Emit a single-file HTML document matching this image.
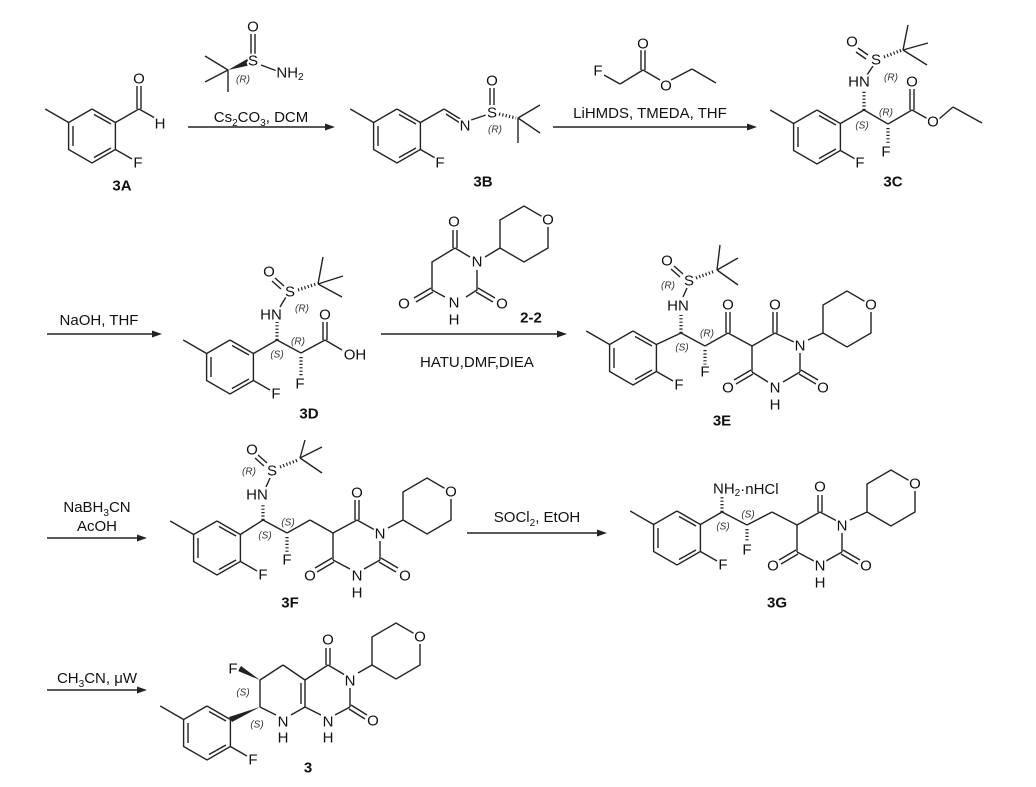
<!DOCTYPE html>
<html><head><meta charset="utf-8"><style>
html,body{margin:0;padding:0;background:#fff;}
svg{display:block;font-family:"Liberation Sans",sans-serif;}
.b line,.b polyline{stroke:#222;stroke-width:1.4;fill:none;}
.h{stroke:#222;stroke-width:3.2;stroke-dasharray:1.2 2.2;}
.a{font-size:15px;text-anchor:middle;dominant-baseline:central;fill:#111;paint-order:stroke;stroke:#fff;stroke-width:4px;stroke-linejoin:round;}
.s{font-size:10px;font-style:italic;text-anchor:middle;dominant-baseline:central;fill:#333;paint-order:stroke;stroke:#fff;stroke-width:2px;}
.r{font-size:15px;text-anchor:middle;fill:#111;}
.l{font-size:15px;font-weight:bold;text-anchor:middle;dominant-baseline:central;fill:#111;}
.w{fill:#fff;}
</style></head><body>
<svg width="1036" height="787" viewBox="0 0 1036 787" xmlns="http://www.w3.org/2000/svg">
<defs>
<g id="ar" class="b">
<polyline points="0,-27 23.4,-13.5 23.4,13.5 0,27 -23.4,13.5 -23.4,-13.5 0,-27"/>
<line x1="2" y1="-21.5" x2="19" y2="-12"/>
<line x1="19" y1="12" x2="2" y2="21.5"/>
<line x1="-19" y1="-10" x2="-19" y2="10"/>
<line x1="-23.4" y1="-13.5" x2="-46.8" y2="-27"/>
<line x1="23.4" y1="13.5" x2="40" y2="23"/>
</g>
<g id="thp" class="b">
<polyline points="0,0 0,-28 24,-42 48,-28 48,0 24,14 0,0"/>
<circle cx="48" cy="-28" r="7" fill="#fff" stroke="none"/>
</g>
<g id="ah"><polygon points="0,0 -10,-3.5 -10,3.5" fill="#222"/></g>
</defs>

<!-- 3A -->
<use href="#ar" x="92" y="136"/>
<g class="b">
<line x1="115.4" y1="122.5" x2="139" y2="109"/>
<line x1="137" y1="109" x2="137" y2="86"/><line x1="141" y1="109" x2="141" y2="86"/>
<line x1="139" y1="109" x2="155" y2="118"/>
</g>
<text class="a" x="139" y="79">O</text>
<text class="a" x="160" y="124">H</text>
<text class="a" x="138" y="163">F</text>
<text class="l" x="122" y="186">3A</text>

<!-- reagent 1 -->
<g class="b">
<line x1="228" y1="70" x2="205" y2="56"/><line x1="228" y1="70" x2="205" y2="82"/><line x1="228" y1="70" x2="228" y2="92"/>
<line x1="251" y1="34" x2="251" y2="54"/><line x1="255" y1="34" x2="255" y2="54"/>
<line x1="261" y1="65" x2="277" y2="71"/>
</g>
<polygon points="228,70 249,58 251,65" fill="#222"/>
<text class="a" x="253" y="61">S</text>
<text class="a" x="253" y="27">O</text>
<text class="a" x="290" y="73">NH<tspan font-size="10" dy="4">2</tspan></text>
<text class="s" x="243" y="80">(R)</text>
<text class="r" x="261" y="122">Cs<tspan font-size="10" dy="4">2</tspan><tspan dy="-4">CO</tspan><tspan font-size="10" dy="4">3</tspan><tspan dy="-4">, DCM</tspan></text>
<line x1="188" y1="127" x2="328" y2="127" stroke="#222" stroke-width="1.4"/>
<use href="#ah" x="335" y="127"/>

<!-- 3B -->
<use href="#ar" x="397" y="136"/>
<g class="b">
<line x1="420.4" y1="122.5" x2="444" y2="109"/>
<line x1="444" y1="109" x2="462" y2="120"/><line x1="446" y1="114" x2="460" y2="123"/>
<line x1="471" y1="120" x2="486" y2="115"/>
<line x1="490" y1="88" x2="490" y2="105"/><line x1="494" y1="88" x2="494" y2="105"/>
<line x1="518" y1="118" x2="540" y2="105"/><line x1="518" y1="118" x2="540" y2="133"/><line x1="518" y1="118" x2="518" y2="143"/>
</g>
<line class="h" x1="499" y1="114" x2="516" y2="118"/>
<text class="a" x="465" y="126">N</text>
<text class="a" x="492" y="113">S</text>
<text class="a" x="492" y="81">O</text>
<text class="s" x="495" y="130">(R)</text>
<text class="a" x="440" y="163">F</text>
<text class="l" x="483" y="182">3B</text>

<!-- reagent 2 -->
<g class="b">
<line x1="604" y1="75" x2="620" y2="84"/><line x1="620" y1="84" x2="643" y2="70"/>
<line x1="641" y1="70" x2="641" y2="50"/><line x1="645" y1="70" x2="645" y2="50"/>
<line x1="643" y1="70" x2="660" y2="80"/><line x1="671" y1="80" x2="692" y2="69"/><line x1="692" y1="69" x2="716" y2="83"/>
</g>
<text class="a" x="598" y="71">F</text>
<text class="a" x="643" y="44">O</text>
<text class="a" x="666" y="86">O</text>
<text class="r" x="650" y="118">LiHMDS, TMEDA, THF</text>
<line x1="553" y1="127" x2="750" y2="127" stroke="#222" stroke-width="1.4"/>
<use href="#ah" x="757" y="127"/>

<!-- 3C -->
<use href="#ar" x="817" y="137"/>
<g class="b">
<line x1="840.4" y1="123.5" x2="864" y2="110"/>
<line x1="867" y1="75" x2="873" y2="66"/>
<line x1="858" y1="48" x2="868" y2="55"/><line x1="856" y1="52" x2="866" y2="59"/>
<line x1="903" y1="50" x2="908" y2="25"/><line x1="903" y1="50" x2="928" y2="43"/><line x1="903" y1="50" x2="927" y2="65"/>
<line x1="864" y1="110" x2="888" y2="124"/><line x1="888" y1="124" x2="912" y2="110"/>
<line x1="910" y1="110" x2="910" y2="89"/><line x1="914" y1="110" x2="914" y2="89"/>
<line x1="912" y1="110" x2="928" y2="119"/><line x1="939" y1="119" x2="953" y2="107"/><line x1="953" y1="107" x2="982" y2="123"/>
</g>
<line class="h" x1="864" y1="110" x2="864" y2="90"/>
<line class="h" x1="884" y1="57" x2="902" y2="50"/>
<line class="h" x1="888" y1="128" x2="888" y2="145"/>
<text class="a" x="859" y="82">HN</text>
<text class="a" x="876" y="60">S</text>
<text class="a" x="852" y="42">O</text>
<text class="s" x="891" y="78">(R)</text>
<text class="a" x="912" y="82">O</text>
<text class="a" x="933" y="122">O</text>
<text class="a" x="886" y="152">F</text>
<text class="s" x="862" y="126">(S)</text>
<text class="s" x="886" y="113">(R)</text>
<text class="a" x="860" y="163">F</text>
<text class="l" x="893" y="182">3C</text>

<!-- ROW 2 -->
<text class="r" x="99" y="325">NaOH, THF</text>
<line x1="47" y1="334" x2="155" y2="334" stroke="#222" stroke-width="1.4"/>
<use href="#ah" x="162" y="334"/>

<!-- 3D -->
<use href="#ar" x="230" y="367"/>
<g class="b">
<line x1="253.4" y1="353.5" x2="277" y2="340"/>
<line x1="280" y1="307" x2="286" y2="297"/>
<line x1="275" y1="278" x2="284" y2="286"/><line x1="272" y1="281" x2="281" y2="289"/>
<line x1="318" y1="284" x2="323" y2="257"/><line x1="318" y1="284" x2="343" y2="276"/><line x1="318" y1="284" x2="342" y2="297"/>
<line x1="277" y1="340" x2="301" y2="353"/><line x1="301" y1="353" x2="325" y2="340"/>
<line x1="323" y1="340" x2="323" y2="322"/><line x1="327" y1="340" x2="327" y2="322"/>
<line x1="325" y1="340" x2="342" y2="350"/>
</g>
<line class="h" x1="277" y1="340" x2="277" y2="322"/>
<line class="h" x1="298" y1="290" x2="316" y2="284"/>
<line class="h" x1="301" y1="357" x2="301" y2="376"/>
<text class="a" x="271" y="315">HN</text>
<text class="a" x="290" y="292">S</text>
<text class="a" x="269" y="272">O</text>
<text class="s" x="302" y="309">(R)</text>
<text class="a" x="325" y="315">O</text>
<text class="a" x="355" y="355">OH</text>
<text class="a" x="300" y="384">F</text>
<text class="s" x="277" y="355">(S)</text>
<text class="s" x="298" y="342">(R)</text>
<text class="a" x="276" y="394">F</text>
<text class="l" x="309" y="414">3D</text>

<!-- 2-2 -->
<g class="b">
<polyline points="455,248 470,257"/><polyline points="477,270 477,290 466,297"/><polyline points="445,297 432,290 432,262 455,248"/>
<line x1="453" y1="248" x2="453" y2="230"/><line x1="457" y1="248" x2="457" y2="230"/>
<line x1="478" y1="288" x2="495" y2="298"/><line x1="476" y1="292" x2="493" y2="302"/>
<line x1="431" y1="288" x2="414" y2="298"/><line x1="433" y1="292" x2="416" y2="302"/>
<line x1="485" y1="257" x2="500" y2="248"/>
</g>
<use href="#thp" x="500" y="248"/>
<text class="a" x="454" y="222">O</text>
<text class="a" x="477" y="262">N</text>
<text class="a" x="502" y="304">O</text>
<text class="a" x="454" y="303">N</text>
<text class="a" x="454" y="320">H</text>
<text class="a" x="404" y="304">O</text>
<text class="a" x="548" y="220">O</text>
<text class="l" x="531" y="318">2-2</text>
<line x1="381" y1="334" x2="560" y2="334" stroke="#222" stroke-width="1.4"/>
<use href="#ah" x="567" y="334"/>
<text class="r" x="477" y="367">HATU,DMF,DIEA</text>

<!-- 3E -->
<use href="#ar" x="633" y="358"/>
<g class="b">
<line x1="656.4" y1="344.5" x2="681" y2="333"/>
<line x1="683" y1="297" x2="687" y2="288"/>
<line x1="674" y1="266" x2="683" y2="274"/><line x1="671" y1="269" x2="680" y2="277"/>
<line x1="717" y1="270" x2="720" y2="245"/><line x1="717" y1="270" x2="738" y2="258"/><line x1="717" y1="270" x2="738" y2="285"/>
<line x1="681" y1="333" x2="705" y2="346"/><line x1="705" y1="346" x2="728" y2="333"/>
<line x1="726" y1="333" x2="726" y2="312"/><line x1="730" y1="333" x2="730" y2="312"/>
<line x1="728" y1="333" x2="752" y2="346"/><line x1="752" y1="346" x2="775" y2="333"/>
<line x1="773" y1="333" x2="773" y2="312"/><line x1="777" y1="333" x2="777" y2="312"/>
<line x1="775" y1="333" x2="794" y2="342"/>
<line x1="800" y1="353" x2="800" y2="372"/>
<line x1="801" y1="370" x2="818" y2="380"/><line x1="799" y1="374" x2="816" y2="384"/>
<line x1="800" y1="372" x2="783" y2="382"/><line x1="768" y1="382" x2="752" y2="372"/>
<line x1="751" y1="370" x2="734" y2="380"/><line x1="753" y1="374" x2="736" y2="384"/>
<line x1="752" y1="372" x2="752" y2="346"/>
<line x1="808" y1="340" x2="823" y2="333"/>
</g>
<use href="#thp" x="823" y="333"/>
<line class="h" x1="681" y1="333" x2="681" y2="315"/>
<line class="h" x1="696" y1="278" x2="715" y2="271"/>
<line class="h" x1="705" y1="350" x2="705" y2="365"/>
<text class="a" x="678" y="306">HN</text>
<text class="a" x="689" y="281">S</text>
<text class="a" x="667" y="261">O</text>
<text class="s" x="668" y="286">(R)</text>
<text class="a" x="728" y="305">O</text>
<text class="a" x="775" y="305">O</text>
<text class="a" x="800" y="346">N</text>
<text class="a" x="823" y="388">O</text>
<text class="a" x="775" y="388">N</text>
<text class="a" x="775" y="405">H</text>
<text class="a" x="728" y="388">O</text>
<text class="a" x="705" y="372">F</text>
<text class="a" x="871" y="305">O</text>
<text class="s" x="682" y="348">(S)</text>
<text class="s" x="707" y="334">(R)</text>
<text class="a" x="679" y="385">F</text>
<text class="l" x="722" y="421">3E</text>

<!-- ROW 3 -->
<text class="r" x="97" y="512">NaBH<tspan font-size="10" dy="4">3</tspan><tspan dy="-4">CN</tspan></text>
<text class="r" x="97" y="531">AcOH</text>
<line x1="47" y1="538" x2="140" y2="538" stroke="#222" stroke-width="1.4"/>
<use href="#ah" x="147" y="538"/>

<!-- 3F -->
<use href="#ar" x="217" y="548"/>
<g class="b">
<line x1="240.4" y1="534.5" x2="263" y2="520"/>
<line x1="266" y1="487" x2="270" y2="478"/>
<line x1="258" y1="455" x2="267" y2="463"/><line x1="255" y1="458" x2="264" y2="466"/>
<line x1="300" y1="458" x2="305" y2="440"/><line x1="300" y1="458" x2="322" y2="447"/><line x1="300" y1="458" x2="322" y2="473"/>
<line x1="263" y1="520" x2="287" y2="533"/><line x1="287" y1="533" x2="310" y2="520"/><line x1="310" y1="520" x2="333" y2="533"/>
<line x1="333" y1="533" x2="357" y2="520"/>
<line x1="355" y1="520" x2="355" y2="500"/><line x1="359" y1="520" x2="359" y2="500"/>
<line x1="357" y1="520" x2="375" y2="530"/>
<line x1="380" y1="541" x2="380" y2="560"/>
<line x1="381" y1="558" x2="398" y2="568"/><line x1="379" y1="562" x2="396" y2="572"/>
<line x1="380" y1="560" x2="364" y2="569"/><line x1="350" y1="569" x2="333" y2="560"/>
<line x1="332" y1="558" x2="315" y2="568"/><line x1="334" y1="562" x2="317" y2="572"/>
<line x1="333" y1="560" x2="333" y2="533"/>
<line x1="388" y1="528" x2="403" y2="520"/>
</g>
<use href="#thp" x="403" y="520"/>
<line class="h" x1="263" y1="520" x2="263" y2="503"/>
<line class="h" x1="280" y1="467" x2="298" y2="460"/>
<line class="h" x1="287" y1="537" x2="287" y2="552"/>
<text class="a" x="257" y="495">HN</text>
<text class="a" x="272" y="471">S</text>
<text class="a" x="252" y="450">O</text>
<text class="s" x="249" y="472">(R)</text>
<text class="a" x="357" y="493">O</text>
<text class="a" x="380" y="534">N</text>
<text class="a" x="405" y="576">O</text>
<text class="a" x="357" y="576">N</text>
<text class="a" x="357" y="593">H</text>
<text class="a" x="310" y="576">O</text>
<text class="a" x="287" y="560">F</text>
<text class="a" x="451" y="492">O</text>
<text class="s" x="265" y="536">(S)</text>
<text class="s" x="288" y="523">(S)</text>
<text class="a" x="263" y="575">F</text>
<text class="l" x="290" y="603">3F</text>

<text class="r" x="537" y="522">SOCl<tspan font-size="10" dy="4">2</tspan><tspan dy="-4">, EtOH</tspan></text>
<line x1="467" y1="533" x2="600" y2="533" stroke="#222" stroke-width="1.4"/>
<use href="#ah" x="607" y="533"/>

<!-- 3G -->
<use href="#ar" x="677" y="538"/>
<g class="b">
<line x1="700.4" y1="524.5" x2="722" y2="512"/>
<line x1="722" y1="512" x2="747" y2="525"/><line x1="747" y1="525" x2="772" y2="512"/><line x1="772" y1="512" x2="797" y2="525"/>
<line x1="797" y1="525" x2="820" y2="512"/>
<line x1="818" y1="512" x2="818" y2="495"/><line x1="822" y1="512" x2="822" y2="495"/>
<line x1="820" y1="512" x2="837" y2="521"/>
<line x1="842" y1="533" x2="842" y2="552"/>
<line x1="843" y1="550" x2="860" y2="560"/><line x1="841" y1="554" x2="858" y2="564"/>
<line x1="842" y1="552" x2="826" y2="561"/><line x1="814" y1="561" x2="797" y2="552"/>
<line x1="796" y1="550" x2="779" y2="560"/><line x1="798" y1="554" x2="781" y2="564"/>
<line x1="797" y1="552" x2="797" y2="525"/>
<line x1="850" y1="520" x2="867" y2="512"/>
</g>
<use href="#thp" x="867" y="512"/>
<line class="h" x1="722" y1="512" x2="722" y2="496"/>
<line class="h" x1="747" y1="529" x2="747" y2="543"/>
<text x="713" y="489" style="font-size:15px;dominant-baseline:central;fill:#111">NH<tspan font-size="10" dy="4">2</tspan><tspan dy="-4">·nHCl</tspan></text>
<text class="a" x="820" y="487">O</text>
<text class="a" x="842" y="526">N</text>
<text class="a" x="866" y="566">O</text>
<text class="a" x="820" y="566">N</text>
<text class="a" x="820" y="583">H</text>
<text class="a" x="773" y="566">O</text>
<text class="a" x="747" y="550">F</text>
<text class="a" x="915" y="484">O</text>
<text class="s" x="723" y="527">(S)</text>
<text class="s" x="748" y="515">(S)</text>
<text class="a" x="723" y="565">F</text>
<text class="l" x="777" y="603">3G</text>

<!-- ROW 4 -->
<text class="r" x="97" y="683">CH<tspan font-size="10" dy="4">3</tspan><tspan dy="-4">CN, μW</tspan></text>
<line x1="47" y1="690" x2="140" y2="690" stroke="#222" stroke-width="1.4"/>
<use href="#ah" x="147" y="690"/>

<!-- 3 -->
<use href="#ar" x="207" y="733"/>
<polygon points="260,707 229,717 232,722" fill="#222"/>
<polygon points="260,680 241,666 238,671" fill="#222"/>
<g class="b">
<line x1="260" y1="707" x2="260" y2="680"/><line x1="260" y1="680" x2="283" y2="665"/><line x1="283" y1="665" x2="305" y2="680"/>
<line x1="305" y1="680" x2="305" y2="707"/><line x1="301" y1="683" x2="301" y2="704"/>
<line x1="305" y1="707" x2="291" y2="715"/><line x1="276" y1="715" x2="260" y2="707"/>
<line x1="305" y1="680" x2="328" y2="665"/>
<line x1="326" y1="665" x2="326" y2="648"/><line x1="330" y1="665" x2="330" y2="648"/>
<line x1="328" y1="665" x2="345" y2="675"/>
<line x1="350" y1="688" x2="350" y2="707"/>
<line x1="351" y1="705" x2="367" y2="715"/><line x1="349" y1="709" x2="365" y2="719"/>
<line x1="350" y1="707" x2="335" y2="715"/><line x1="321" y1="715" x2="305" y2="707"/>
<line x1="358" y1="673" x2="372" y2="665"/>
</g>
<use href="#thp" x="372" y="665"/>
<text class="a" x="233" y="669">F</text>
<text class="a" x="283" y="722">N</text>
<text class="a" x="283" y="738">H</text>
<text class="a" x="328" y="640">O</text>
<text class="a" x="350" y="681">N</text>
<text class="a" x="373" y="721">O</text>
<text class="a" x="328" y="722">N</text>
<text class="a" x="328" y="738">H</text>
<text class="a" x="420" y="637">O</text>
<text class="s" x="243" y="693">(S)</text>
<text class="s" x="257" y="725">(S)</text>
<text class="a" x="253" y="760">F</text>
<text class="l" x="308" y="768">3</text>
</svg>
</body></html>
